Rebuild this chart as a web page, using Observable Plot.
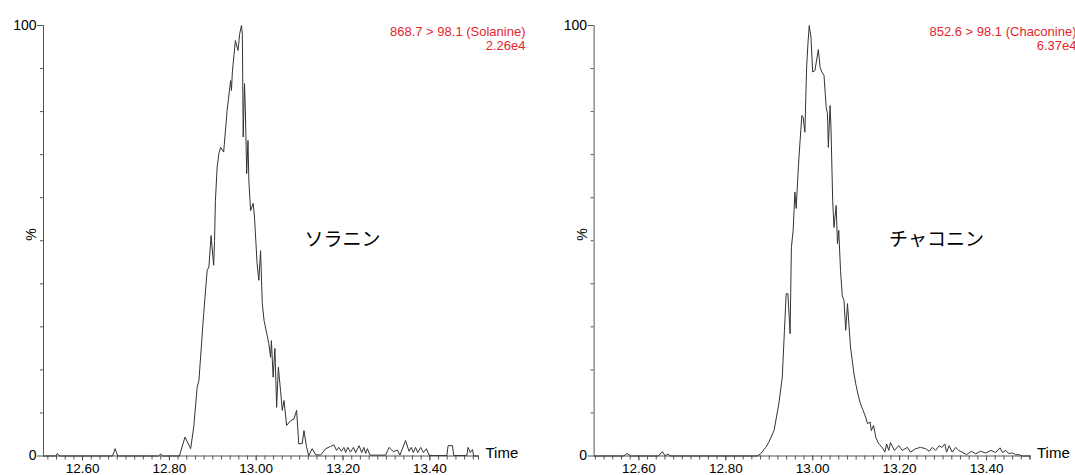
<!DOCTYPE html>
<html><head><meta charset="utf-8">
<script src="https://cdn.jsdelivr.net/npm/d3@7"></script>
<script src="https://cdn.jsdelivr.net/npm/@observablehq/plot@0.6"></script>
<style>
body{margin:0;background:#fff;font-family:"Liberation Sans",Arial,sans-serif}
#wrap{display:flex;width:1075px;height:475px;overflow:hidden}
#wrap svg{display:block;flex:none}
</style>
</head><body><div id="wrap"></div>
<script>
// Solanine trace (retention time, min / relative intensity, %)
const solanineTime = [12.510,12.538,12.542,12.547,12.669,12.675,12.681,12.775,12.780,12.784,12.823,12.836,12.849,12.856,12.864,12.868,12.879,12.887,12.891,12.896,12.902,12.904,12.906,12.910,12.914,12.918,12.925,12.933,12.941,12.943,12.945,12.952,12.958,12.962,12.966,12.968,12.970,12.973,12.975,12.978,12.981,12.983,12.987,12.993,12.996,12.999,13.002,13.006,13.010,13.014,13.018,13.029,13.033,13.035,13.039,13.043,13.047,13.051,13.056,13.060,13.064,13.070,13.079,13.087,13.093,13.098,13.106,13.110,13.116,13.121,13.129,13.137,13.148,13.160,13.171,13.179,13.185,13.190,13.196,13.202,13.206,13.211,13.217,13.224,13.229,13.237,13.243,13.248,13.252,13.256,13.262,13.298,13.306,13.316,13.325,13.331,13.344,13.352,13.357,13.362,13.367,13.372,13.379,13.385,13.392,13.398,13.406,13.439,13.442,13.452,13.455,13.485,13.488,13.493,13.498,13.501,13.512];
const solaninePct = [0,0,0.6,0,0,1.7,0,0,0.5,0,0,4.4,1.7,6.7,16.0,17.5,33.1,43.1,43.9,51.2,44.3,50.1,59.3,67.1,70.3,71.7,70.6,80.3,87.2,84.9,89.2,96.5,94.2,98.1,100,98.1,74.1,86.5,80.3,65.6,73.3,64.0,57.0,58.7,55.5,50.1,44.7,40.8,47.7,35.4,31.5,26.1,22.9,26.8,18.3,25.0,11.3,20.6,15.2,10.6,12.9,7.1,8.2,8.6,10.6,2.8,2.9,5.9,2.0,0.1,1.7,0.3,0.2,1.7,2.2,2.6,1.3,2.0,1.1,2.0,0.8,2.0,0.9,2.0,0.8,2.4,0.8,2.0,0.6,1.7,0.2,0.2,2.0,1.0,1.4,0.2,3.6,1.1,2.0,0.8,2.0,0.8,2.0,0.8,1.7,0.2,0.1,0.1,2.4,2.4,0.1,0.1,2.0,0.8,1.5,0,0];

// Chaconine trace
const chaconineTime = [12.497,12.565,12.573,12.581,12.645,12.654,12.661,12.667,12.672,12.872,12.880,12.892,12.899,12.911,12.922,12.930,12.935,12.939,12.943,12.948,12.951,12.955,12.959,12.962,12.967,12.971,12.975,12.978,12.982,12.986,12.989,12.992,12.996,13.000,13.005,13.013,13.017,13.021,13.026,13.031,13.034,13.036,13.040,13.042,13.046,13.049,13.054,13.057,13.060,13.064,13.068,13.072,13.076,13.080,13.087,13.095,13.099,13.104,13.110,13.116,13.122,13.126,13.132,13.135,13.140,13.145,13.152,13.160,13.166,13.170,13.175,13.179,13.188,13.198,13.206,13.218,13.225,13.237,13.248,13.260,13.268,13.275,13.283,13.291,13.297,13.304,13.308,13.314,13.321,13.329,13.336,13.344,13.354,13.365,13.375,13.386,13.398,13.410,13.421,13.431,13.437,13.444,13.451,13.460,13.467,13.475,13.483,13.500];
const chaconinePct = [0,0,0.6,0,0,1.0,0,0.5,0,0,0.5,2.0,3.2,5.9,12.1,18.3,29.2,37.7,37.7,28.4,48.5,52.4,61.3,57.5,67.1,73.3,79.1,78.7,75.2,90.3,95.7,100,97.3,89.2,89.5,94.4,90.3,89.2,88.4,81.0,79.5,71.7,81.4,76.4,59.3,53.1,58.2,49.3,52.4,43.1,37.3,36.1,29.2,35.4,25.3,19.1,16.8,14.4,12.1,10.6,9.0,7.5,7.9,5.9,7.1,4.4,2.8,2.0,0.9,2.8,1.3,3.1,1.3,2.4,1.3,2.0,0.9,1.7,2.0,1.7,1.1,2.0,1.3,2.4,2.0,2.8,0.9,2.4,0.9,2.0,1.3,0.9,0.3,1.1,0.5,1.1,0.7,1.3,0.8,1.9,0.8,1.3,0.6,0.7,0.3,0.3,0,0];

// Axis ticks and labels
const xMinorTicks = d3.range(0, 51).map(i => +(12.5 + i * 0.02).toFixed(2));
const xLabelTicks = [12.6, 12.8, 13.0, 13.2, 13.4];
const yMinorTicks = [10, 20, 30, 40, 50, 60, 70, 80, 90];
const yLabelTicks = [0, 100];

const axisColor = "#555";
const redColor = "#e3262b";

function chromatogram(o) {
  const data = o.time.map((t, i) => ({t, p: o.pct[i]}));
  const [d0, d1] = o.domain;
  const minor = xMinorTicks.filter(v => v >= d0 - 1e-9 && v <= d1 + 1e-9).concat([d1]);
  return Plot.plot({
    width: o.width, height: 475,
    marginLeft: o.ml, marginRight: o.mr, marginTop: 25, marginBottom: 19.5,
    x: {domain: o.domain, label: null},
    y: {domain: [0, 100], label: null},
    style: {fontFamily: "'Liberation Sans', Arial, sans-serif", fontSize: "14px", overflow: "visible", background: "#fff", color: "#000"},
    marks: [
      Plot.axisX({ticks: minor, tickSize: 4, tickFormat: () => "", stroke: axisColor, label: null}),
      Plot.axisX({ticks: xLabelTicks, tickSize: 5, tickPadding: 2, tickFormat: d => d.toFixed(2), stroke: axisColor, fill: "#000", fontSize: 13.5, label: null}),
      Plot.axisY({ticks: yMinorTicks, tickSize: 3, tickFormat: () => "", stroke: axisColor, label: null}),
      Plot.axisY({ticks: yLabelTicks, tickSize: 6, tickPadding: 1, tickFormat: d => String(d), stroke: axisColor, fill: "#000", fontSize: 14, label: null}),
      Plot.ruleX([d0], {stroke: axisColor}),
      Plot.ruleY([0], {stroke: axisColor}),
      Plot.lineY(data, {x: "t", y: "p", stroke: "#333", strokeWidth: 1}),
      Plot.text(["Time"], {frameAnchor: "bottom-right", dx: 7, dy: 2, textAnchor: "start", fontSize: 15, fill: "#000"}),
      Plot.text(["%"], {frameAnchor: "left", dx: -12, rotate: -90, fontSize: 14, fill: "#000"}),
      Plot.text([o.title + "\n" + o.intensity], {frameAnchor: "top-right", dx: o.tdx, dy: 1, textAnchor: "end", fill: redColor, fontSize: 13, lineHeight: 1.05}),
      Plot.text([o.name], {frameAnchor: "top-left", dx: o.nx, dy: 207, textAnchor: "middle", fontSize: 19, fontFamily: "'Noto Sans CJK JP', sans-serif", fill: "#000"})
    ]
  });
}

const wrap = document.getElementById("wrap");
wrap.appendChild(chromatogram({
  time: solanineTime, pct: solaninePct, domain: [12.51, 13.512],
  width: 537, ml: 43, mr: 59, tdx: 47, nx: 299,
  title: "868.7 > 98.1 (Solanine)", intensity: "2.26e4", name: "ソラニン"
}));
wrap.appendChild(chromatogram({
  time: chaconineTime, pct: chaconinePct, domain: [12.497, 13.50],
  width: 538, ml: 56.6, mr: 45.5, tdx: 46.5, nx: 342.4,
  title: "852.6 > 98.1 (Chaconine)", intensity: "6.37e4", name: "チャコニン"
}));
</script>
</body></html>
